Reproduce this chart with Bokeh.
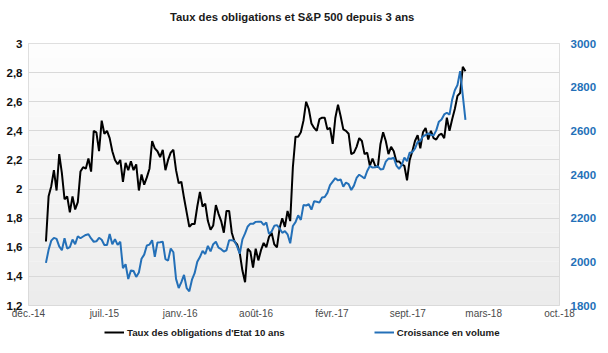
import pandas as pd
from bokeh.plotting import figure
from bokeh.layouts import column
from bokeh.models import (Range1d, LinearAxis, FixedTicker, Legend, LegendItem,
                          BoxAnnotation, ColumnDataSource, Label)
from bokeh.embed import file_html
from bokeh.resources import INLINE

# ---------------- data ----------------
first_week = "2015-01-30"          # weekly observations (Fridays)
n_weeks = 159
x_origin = "2014-12-15"            # start of the date axis

taux_10ans = [
    1.64, 1.95, 2.02, 2.13, 1.99, 2.24, 2.11, 1.93, 1.95, 1.84, 1.95, 1.86, 1.91,
    2.12, 2.15, 2.14, 2.21, 2.12, 2.40, 2.39, 2.26, 2.47, 2.38, 2.40, 2.35, 2.26,
    2.20, 2.17, 2.20, 2.05, 2.18, 2.13, 2.19, 2.13, 2.17, 1.99, 2.10, 2.03, 2.08,
    2.14, 2.33, 2.28, 2.26, 2.22, 2.27, 2.13, 2.20, 2.25, 2.27, 2.13, 2.04, 2.05,
    1.94, 1.84, 1.74, 1.76, 1.76, 1.88, 1.98, 1.88, 1.90, 1.78, 1.72, 1.75, 1.89,
    1.83, 1.78, 1.70, 1.85, 1.85, 1.70, 1.64, 1.62, 1.56, 1.44, 1.36, 1.59, 1.57,
    1.46, 1.59, 1.51, 1.58, 1.63, 1.60, 1.67, 1.70, 1.62, 1.60, 1.73, 1.80, 1.74,
    1.85, 1.78, 2.15, 2.36, 2.36, 2.39, 2.47, 2.60, 2.55, 2.45, 2.42, 2.40, 2.48,
    2.49, 2.49, 2.41, 2.42, 2.31, 2.49, 2.58, 2.50, 2.41, 2.40, 2.38, 2.24, 2.25,
    2.29, 2.35, 2.33, 2.24, 2.25, 2.16, 2.21, 2.16, 2.15, 2.31, 2.39, 2.33, 2.24,
    2.29, 2.26, 2.19, 2.19, 2.17, 2.16, 2.06, 2.20, 2.26, 2.33, 2.37, 2.28, 2.39,
    2.42, 2.34, 2.40, 2.35, 2.34, 2.37, 2.38, 2.35, 2.49, 2.40, 2.48, 2.55, 2.64,
    2.66, 2.84, 2.81,
]

sp500 = [
    1995, 2055, 2097, 2110, 2105, 2071, 2053, 2108, 2061, 2067, 2102, 2081, 2117,
    2108, 2116, 2123, 2126, 2107, 2092, 2094, 2110, 2101, 2077, 2077, 2127, 2080,
    2104, 2078, 2092, 1971, 1989, 1921, 1961, 1958, 1931, 1951, 2014, 2033, 2075,
    2079, 2099, 2023, 2089, 2090, 2092, 2012, 2006, 2061, 2044, 1922, 1880, 1907,
    1940, 1880, 1865, 1918, 1948, 2000, 2022, 2050, 2036, 2073, 2048, 2081, 2092,
    2065, 2058, 2047, 2053, 2099, 2099, 2096, 2071, 2037, 2103, 2130, 2162, 2175,
    2174, 2183, 2184, 2184, 2169, 2180, 2128, 2139, 2165, 2168, 2153, 2133, 2141,
    2126, 2085, 2164, 2182, 2213, 2192, 2260, 2258, 2264, 2239, 2277, 2275, 2271,
    2295, 2297, 2316, 2351, 2367, 2383, 2373, 2378, 2344, 2363, 2356, 2329, 2349,
    2384, 2399, 2391, 2382, 2416, 2439, 2432, 2433, 2438, 2423, 2425, 2459, 2473,
    2472, 2477, 2441, 2426, 2443, 2477, 2461, 2500, 2502, 2519, 2549, 2553, 2575,
    2581, 2588, 2582, 2579, 2602, 2642, 2652, 2675, 2683, 2674, 2743, 2786, 2810,
    2873, 2762, 2650,
]

x_tick_days = [0, 200, 400, 600, 800, 1000, 1200, 1400]
x_tick_labels = ["déc.-14", "juil.-15", "janv.-16", "août-16",
                 "févr.-17", "sept.-17", "mars-18", "oct.-18"]
left_ticks = [1.2, 1.4, 1.6, 1.8, 2.0, 2.2, 2.4, 2.6, 2.8, 3.0]
left_labels = ["1,2", "1,4", "1,6", "1,8", "2", "2,2", "2,4", "2,6", "2,8", "3"]
right_ticks = [1800, 2000, 2200, 2400, 2600, 2800, 3000]
right_labels = ["1800", "2000", "2200", "2400", "2600", "2800", "3000"]

title_text = "Taux des obligations et S&P 500 depuis 3 ans"
name_black = "Taux des obligations d'Etat 10 ans"
name_blue = "Croissance en volume"

# ---------------- build ----------------
dates = pd.date_range(first_week, periods=n_weeks, freq="7D")
days = (dates - pd.Timestamp(x_origin)).days.tolist()
src = ColumnDataSource(dict(x=days, taux=taux_10ans, sp=sp500))

BLUE = "#2470b8"
FONT = "Liberation Sans"
W = 608


def strip(h):
    f = figure(width=W, height=h, output_backend="svg", toolbar_location=None,
               x_range=Range1d(0, W), y_range=Range1d(0, h),
               min_border_left=0, min_border_right=0, min_border_top=0,
               min_border_bottom=0)
    f.axis.visible = False
    f.grid.grid_line_color = None
    f.outline_line_color = None
    f.background_fill_color = "white"
    f.border_fill_color = "white"
    return f


# ---- title strip ----
TH = 28
pt = strip(TH)
pt.add_layout(Label(x=302, y=TH - 16, text=title_text, text_align="center",
                    text_baseline="middle", text_font=FONT, text_font_size="11.3px",
                    text_font_style="bold", text_color="#1a1a1a"))

# ---- main chart ----
p = figure(width=W, height=294, output_backend="svg", toolbar_location=None,
           x_range=Range1d(0, 1400), y_range=Range1d(1.2, 3.0),
           min_border_left=28, min_border_right=49, min_border_top=43 - TH,
           min_border_bottom=17)
p.extra_y_ranges = {"sp": Range1d(1800, 3000)}

p.background_fill_color = "white"
p.border_fill_color = "white"
p.outline_line_color = "#d4d4d4"
p.outline_line_width = 1

# soft vertical gradient in the plot area
nb = 18
for i in range(nb):
    t = i / (nb - 1)
    g = int(round(236 + (253 - 236) * t))
    col = "#%02x%02x%02x" % (g, g, g)
    b = 1.2 + 0.1 * i
    p.add_layout(BoxAnnotation(bottom=b, top=b + 0.1, fill_color=col, fill_alpha=1.0,
                               line_color=None, level="image"))

xa = p.xaxis[0]
xa.ticker = FixedTicker(ticks=x_tick_days)
xa.major_label_overrides = dict(zip(x_tick_days, x_tick_labels))
ya = p.yaxis[0]
ya.ticker = FixedTicker(ticks=left_ticks)
ya.major_label_overrides = dict(zip(left_ticks, left_labels))

ra = LinearAxis(y_range_name="sp", ticker=FixedTicker(ticks=right_ticks))
ra.major_label_overrides = dict(zip(right_ticks, right_labels))
p.add_layout(ra, "right")

for ax in (xa, ya, ra):
    ax.axis_line_color = None
    ax.major_tick_line_color = None
    ax.minor_tick_line_color = None
    ax.major_tick_out = 0
    ax.major_tick_in = 0
    ax.minor_tick_out = 0
    ax.minor_tick_in = 0
    ax.major_label_text_font = FONT

ya.major_label_text_font_size = "11.5px"
ya.major_label_text_font_style = "bold"
ya.major_label_text_color = "#111111"
ya.major_label_standoff = 6

ra.major_label_text_font_size = "11.5px"
ra.major_label_text_font_style = "bold"
ra.major_label_text_color = BLUE
ra.major_label_standoff = 11

xa.major_label_text_font_size = "10px"
xa.major_label_text_color = "#4a4a4a"
xa.major_label_standoff = 2

p.xgrid.grid_line_color = None
p.ygrid.grid_line_color = "#d9d9d9"
p.ygrid.grid_line_width = 1

r_black = p.line("x", "taux", source=src, line_color="black", line_width=2)
r_blue = p.line("x", "sp", source=src, y_range_name="sp", line_color=BLUE, line_width=2)

# ---- legend strip below the chart ----
pl = strip(31)
# legend-only renderers (a single observation each: nothing visible is drawn)
lb = pl.line(x=days[:1], y=taux_10ans[:1], line_color="black", line_width=2)
ll = pl.line(x=days[:1], y=sp500[:1], line_color=BLUE, line_width=2)

legend = Legend(items=[LegendItem(label=name_black, renderers=[lb]),
                       LegendItem(label=name_blue, renderers=[ll])],
                orientation="horizontal", location=(76, 15),
                label_text_font=FONT, label_text_font_size="9.7px",
                label_text_font_style="bold", label_text_color="#1a1a1a",
                glyph_width=20, glyph_height=12, label_standoff=3, spacing=89,
                padding=0, margin=0, border_line_color=None,
                background_fill_alpha=0)
pl.add_layout(legend, "center")

open("out.html", "w").write(file_html(column(pt, p, pl, spacing=0), INLINE))
